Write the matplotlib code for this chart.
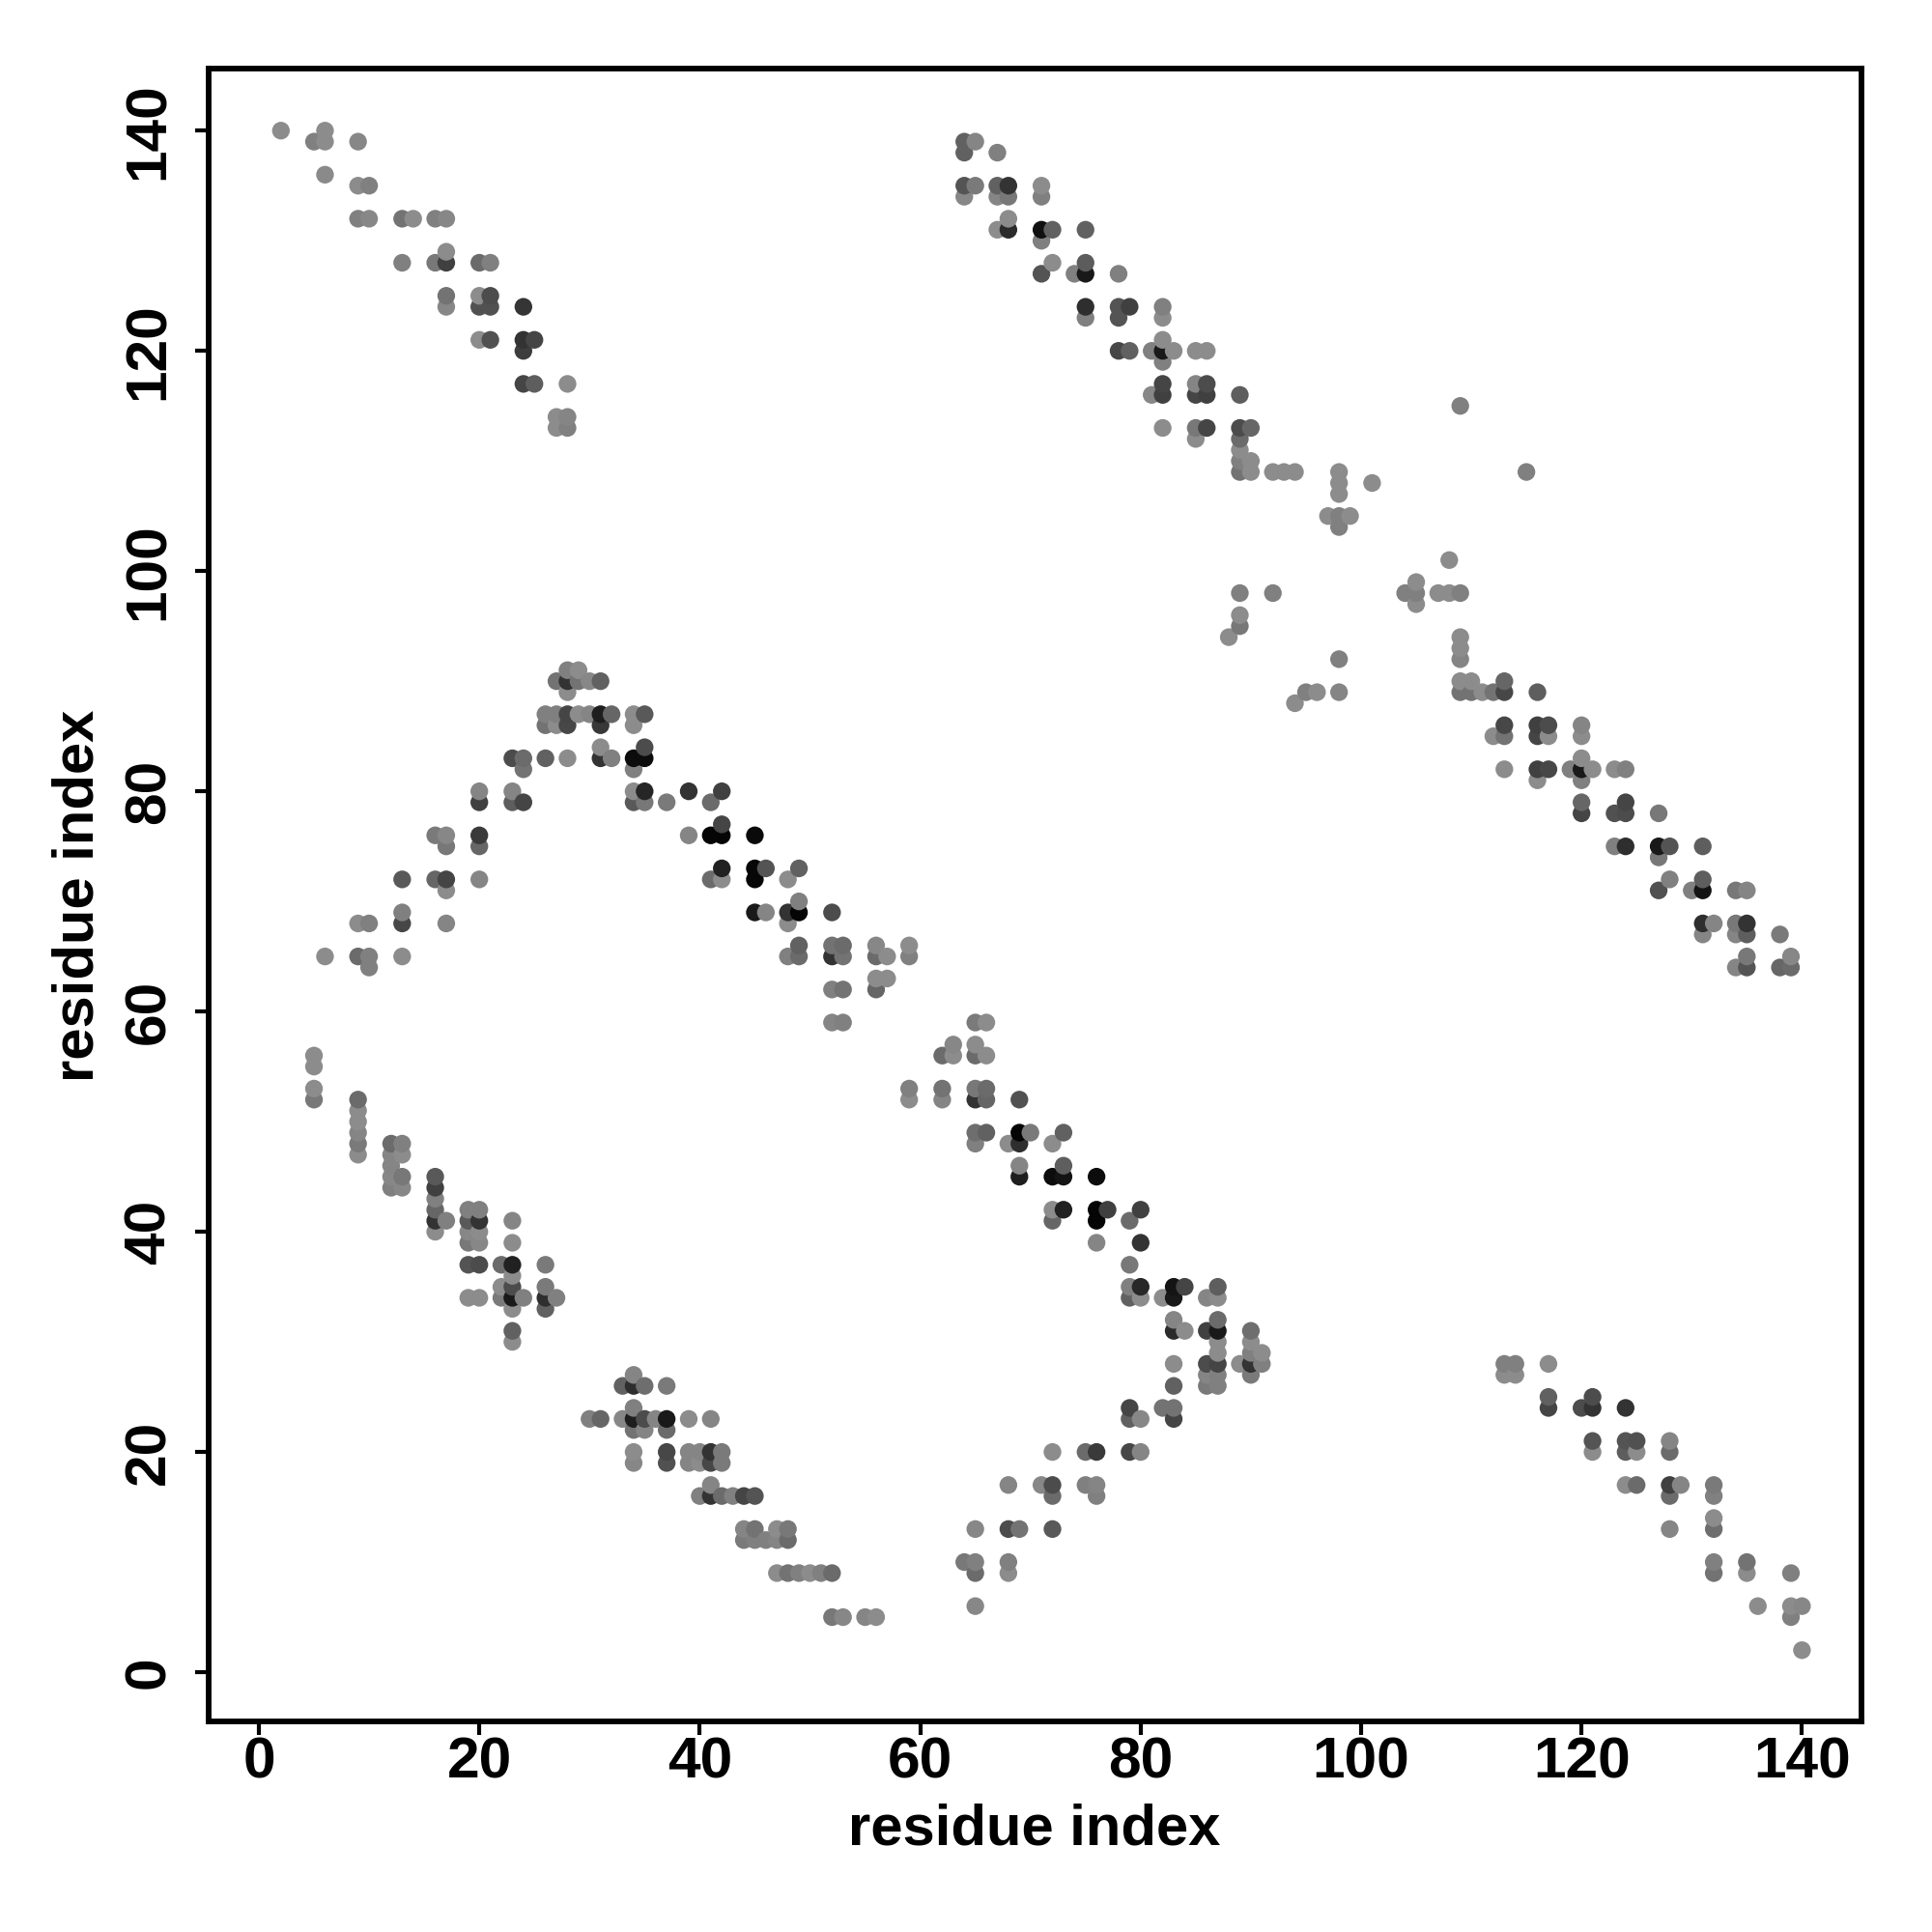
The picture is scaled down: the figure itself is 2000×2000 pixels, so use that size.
import numpy as np
import matplotlib
matplotlib.use("Agg")
import matplotlib.pyplot as plt

plt.rcParams['font.family'] = ['Liberation Sans', 'DejaVu Sans']
plt.rcParams['font.weight'] = 'bold'

# (column residue, [(row residue, grey level 0=black .. 1=white), ...])
block_a = {
 2:[(140,.55)], 5:[(139,.5),(56,.55),(55,.55),(53,.55),(52,.47)],
 6:[(140,.55),(139,.55),(136,.54),(65,.55)],
 9:[(139,.53),(135,.55),(132,.5),(68,.55),(65,.42),(52,.42),(51,.55),(50,.55),(49,.52),(48,.48),(47,.55)],
 10:[(135,.5),(132,.53),(68,.5),(65,.5),(64,.5)],
 12:[(48,.42),(47,.52),(46,.52),(45,.53),(44,.5)],
 13:[(132,.45),(128,.5),(72,.35),(69,.5),(68,.28),(65,.55),(48,.5),(47,.55),(45,.47),(44,.53)],
 14:[(132,.55)],
 16:[(132,.5),(128,.47),(76,.48),(72,.4),(45,.35),(44,.25),(43,.5),(42,.4),(41,.2),(40,.55)],
 17:[(132,.53),(129,.55),(128,.25),(125,.45),(124,.53),(76,.53),(75,.47),(72,.27),(71,.55),(68,.52),(41,.5)],
 19:[(42,.5),(41,.35),(40,.53),(39,.47),(37,.33),(34,.55)],
 20:[(128,.42),(125,.55),(124,.32),(121,.55),(80,.52),(79,.25),(76,.23),(75,.4),(72,.52),(42,.5),(41,.2),(40,.55),(39,.53),(37,.3),(34,.55)],
 21:[(128,.5),(125,.3),(124,.32),(121,.32)],
 22:[(37,.42),(35,.55),(34,.48)],
 23:[(83,.3),(80,.52),(79,.37),(41,.52),(39,.55),(37,.13),(36,.55),(35,.3),(34,.1),(33,.55),(31,.38),(30,.55)],
 24:[(124,.21),(121,.2),(120,.24),(117,.27),(83,.42),(82,.45),(79,.27),(34,.5)],
 25:[(121,.27),(117,.37)],
 26:[(87,.5),(86,.45),(83,.38),(37,.48),(35,.48),(34,.18),(33,.38)],
 27:[(114,.55),(113,.55),(90,.45),(87,.5),(86,.55),(34,.5)],
 28:[(117,.55),(114,.52),(113,.5),(91,.5),(90,.2),(89,.55),(87,.27),(86,.28),(83,.55)],
 29:[(91,.55),(90,.45),(87,.55)],
 30:[(90,.53),(87,.52),(23,.5)],
 31:[(90,.38),(87,.12),(86,.22),(84,.55),(83,.2),(23,.4)],
 32:[(87,.4),(83,.5)],
 33:[(26,.38),(23,.53)],
 34:[(87,.55),(86,.55),(83,.05),(82,.5),(80,.55),(79,.35),(27,.52),(26,.18),(24,.5),(23,.12),(22,.45),(20,.55),(19,.53)],
 35:[(87,.35),(84,.3),(83,.05),(80,.15),(79,.47),(26,.43),(23,.3),(22,.52)],
 36:[(23,.52)],
 37:[(79,.48),(26,.48),(23,.1),(22,.42),(20,.28),(19,.32)],
 39:[(80,.2),(76,.52),(23,.55),(20,.52),(19,.52)],
 40:[(20,.52),(19,.55),(16,.5)],
 41:[(79,.42),(76,.02),(72,.42),(23,.52),(20,.2),(19,.28),(17,.52),(16,.2)],
 42:[(80,.25),(77,.27),(76,.02),(73,.13),(72,.55),(20,.48),(19,.48),(16,.42)],
 43:[(16,.5)],
 44:[(16,.27),(13,.52),(12,.48)],
 45:[(76,.04),(73,.03),(72,.03),(69,.1),(16,.33),(13,.45),(12,.5)],
 46:[(73,.33),(69,.52),(12,.5)],
 47:[(13,.55),(12,.52),(9,.55)],
 48:[(72,.55),(69,.2),(68,.55),(65,.5),(13,.47),(12,.42),(9,.45)],
 49:[(73,.38),(70,.5),(69,.02),(66,.38),(65,.42),(9,.5)],
 50:[(9,.55)], 51:[(9,.5)],
 52:[(69,.3),(66,.45),(65,.2),(62,.5),(59,.52),(9,.42),(5,.47)],
 53:[(66,.42),(65,.45),(62,.45),(59,.5),(5,.53)],
 55:[(5,.52)],
 56:[(66,.53),(65,.42),(63,.55),(62,.4),(5,.55)],
 57:[(65,.55),(63,.55)],
 59:[(66,.55),(65,.5),(53,.5),(52,.55)],
}
block_b = {
 62:[(56,.42),(53,.45),(52,.52)],
 63:[(57,.53),(56,.55)],
 64:[(139,.38),(138,.38),(135,.33),(134,.53),(10,.47)],
 65:[(139,.52),(135,.48),(59,.48),(57,.55),(56,.42),(53,.47),(52,.2),(49,.43),(48,.5),(13,.53),(10,.5),(9,.42),(6,.53)],
 66:[(59,.55),(56,.55),(53,.42),(52,.4),(49,.38)],
 67:[(138,.5),(135,.38),(134,.52),(131,.55)],
 68:[(135,.2),(134,.47),(132,.55),(131,.17),(48,.55),(17,.52),(13,.3),(10,.5),(9,.55)],
 69:[(52,.32),(49,.02),(48,.18),(46,.52),(45,.12),(13,.45)],
 70:[(49,.48)],
 71:[(135,.55),(134,.5),(131,.07),(130,.5),(127,.33),(17,.53)],
 72:[(131,.38),(128,.55),(48,.55),(45,.05),(42,.55),(41,.4),(20,.55),(17,.3),(16,.42),(13,.35)],
 73:[(49,.38),(46,.37),(45,.08),(42,.13)],
 74:[(127,.5)],
 75:[(131,.38),(128,.36),(127,.1),(124,.18),(123,.5),(20,.42),(17,.5)],
 76:[(45,.05),(42,.02),(41,.02),(39,.52),(20,.23),(17,.52),(16,.5)],
 77:[(42,.25)],
 78:[(127,.5),(124,.33),(123,.33),(120,.28)],
 79:[(124,.25),(120,.38),(41,.42),(37,.47),(35,.5),(34,.38),(24,.27),(23,.38),(20,.28)],
 80:[(42,.25),(39,.2),(35,.16),(34,.55),(23,.53),(20,.52)],
 81:[(120,.5),(116,.53)],
 82:[(124,.5),(123,.55),(121,.55),(120,.1),(119,.5),(117,.27),(116,.25),(113,.55),(34,.55),(24,.45)],
 83:[(120,.55),(35,.08),(34,.1),(32,.52),(31,.17),(28,.55),(26,.38),(24,.45),(23,.27)],
 84:[(35,.27),(31,.55)],
 85:[(120,.55),(117,.52),(116,.27),(113,.47),(112,.55)],
 86:[(120,.55),(117,.3),(116,.25),(113,.27),(34,.52),(31,.25),(28,.3),(27,.52),(26,.48)],
 87:[(35,.37),(34,.55),(32,.42),(31,.1),(30,.55),(29,.55),(28,.27),(27,.5),(26,.5)],
 88:[(94,.55)],
 89:[(116,.37),(113,.3),(112,.42),(111,.55),(110,.5),(109,.45),(98,.5),(96,.55),(95,.47),(28,.55)],
 90:[(113,.4),(110,.55),(109,.55),(31,.43),(30,.55),(29,.5),(28,.2),(27,.48)],
 91:[(29,.55),(28,.5)],
 92:[(109,.55),(98,.5)], 93:[(109,.55)], 94:[(109,.55),(88,.55)],
 95:[(89,.5)], 96:[(89,.55)], 97:[(105,.55)],
 98:[(109,.55),(108,.55),(107,.55),(105,.5),(104,.5),(92,.5),(89,.52)],
 99:[(105,.55)], 101:[(108,.55)],
 104:[(98,.5)], 105:[(99,.55),(98,.5),(97,.55)],
 107:[(98,.55)], 108:[(101,.55),(98,.55)],
 109:[(115,.5),(98,.5),(94,.55),(93,.55),(92,.52),(90,.55),(89,.45)],
 110:[(90,.55),(89,.45)], 111:[(89,.55)],
 112:[(89,.45),(85,.55)],
 113:[(90,.4),(89,.28),(86,.28),(85,.45),(82,.55),(28,.5),(27,.55)],
 114:[(28,.5),(27,.55)],
 115:[(109,.5)],
 116:[(89,.37),(86,.25),(85,.27),(82,.25),(81,.55)],
 117:[(86,.3),(85,.55),(82,.28),(28,.55),(25,.38),(24,.27)],
 119:[(82,.5)],
 120:[(86,.52),(85,.55),(83,.55),(82,.1),(81,.5),(79,.4),(78,.27),(24,.3)],
 121:[(82,.55),(25,.3),(24,.2),(21,.33),(20,.55)],
 123:[(82,.55),(78,.32),(75,.5)],
 124:[(82,.5),(79,.27),(78,.3),(75,.18),(24,.2),(21,.33),(20,.37),(17,.55)],
 125:[(21,.32),(20,.55),(17,.42)],
 127:[(78,.47),(75,.1),(74,.47),(71,.32)],
 128:[(75,.33),(72,.5),(21,.52),(20,.42),(17,.25),(16,.42),(13,.52)],
 129:[(17,.52)],
 130:[(71,.5)],
 131:[(75,.37),(72,.37),(71,.08),(68,.18),(67,.52)],
 132:[(68,.52),(17,.48),(16,.5),(14,.55),(13,.43),(10,.5),(9,.45)],
 134:[(71,.47),(68,.47),(67,.52),(64,.52)],
 135:[(71,.52),(68,.2),(67,.37),(65,.47),(64,.33),(10,.45),(9,.55)],
 136:[(6,.55)],
 138:[(67,.48),(64,.4)],
 139:[(65,.53),(64,.42),(9,.5),(6,.55),(5,.5)],
 140:[(6,.53),(2,.55)],
}

tick_values = [0, 20, 40, 60, 80, 100, 120, 140]
axis_label = "residue index"

res_x, res_y, shade = [], [], []
for block in (block_a, block_b):
    for col, rows in block.items():
        for row, g in rows:
            res_x.append(col); res_y.append(row); shade.append(g)
res_x, res_y, shade = map(np.array, (res_x, res_y, shade))
order = np.lexsort((res_y, res_x))

fig = plt.figure(figsize=(20, 20), dpi=100)
ax = fig.add_axes([215.5/2000, 1-1782/2000, (1927-215.5)/2000, (1782-71.4)/2000])
ax.scatter(res_x[order], res_y[order], c=shade[order], cmap='gray', vmin=0, vmax=1,
           s=174, linewidths=0, zorder=3)
ax.set_xlim(-4.6, 145.4)
ax.set_ylim(-4.47, 145.6)
ax.set_xticks(tick_values)
ax.set_yticks(tick_values)
ax.tick_params(axis='x', length=10, width=3, labelsize=43.5, pad=1)
ax.tick_params(axis='y', length=10, width=3, labelsize=43.5, pad=14)
for lab in ax.get_yticklabels():
    lab.set_rotation(90)
    lab.set_va('center')
for s in ax.spines.values():
    s.set_linewidth(4.2)
fig.text(1071/2000, 1-1894/2000, axis_label, ha='center', va='center', fontsize=43, fontweight='bold')
fig.text(81/2000, 1-927/2000, axis_label, ha='center', va='center', rotation=90, fontsize=43, fontweight='bold')
fig.savefig('out.png', dpi=100, facecolor='white')
